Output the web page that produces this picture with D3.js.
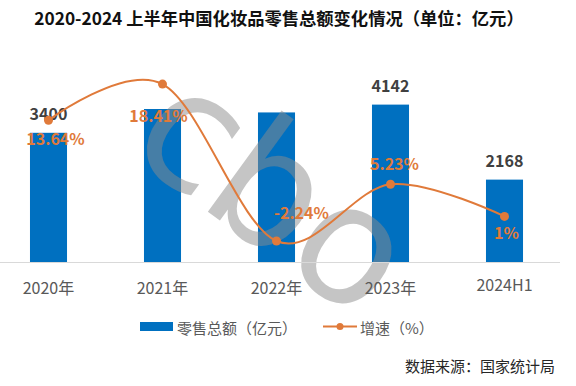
<!DOCTYPE html>
<html>
<head>
<meta charset="utf-8">
<script src="https://cdn.jsdelivr.net/npm/d3@7"></script>
<style>
  html, body { margin: 0; padding: 0; background: #fff; }
  svg { display: block; font-family: "Noto Sans CJK SC", "Noto Sans", sans-serif; }
</style>
</head>
<body>
<svg id="chart" width="576" height="386"></svg>
<script>
// ---- data ----
const categories = ["2020年", "2021年", "2022年", "2023年", "2024H1"];
const salesValues = [3400, 4026, 3936, 4142, 2168];          // 零售总额（亿元）
const salesLabelShown = [true, false, false, true, true];     // labels visible in the picture
const growthValues = [13.64, 18.41, -2.24, 5.23, 1];          // 增速（%）
const growthLabels = ["13.64%", "18.41%", "-2.24%", "5.23%", "1%"];
const seriesNames = ["零售总额（亿元）", "增速（%）"];
const titleText = "2020-2024 上半年中国化妆品零售总额变化情况（单位：亿元）";
const sourceText = "数据来源：国家统计局";

// ---- layout config (not data) ----
const growthLabelDx = [7, -4, 25, 4, 2];
const growthLabelDy = [25, 38, -22, -14, 23];

const BLUE = "#0070C0", ORANGE = "#E07A3A";
const svg = d3.select("#chart");

// title
svg.append("text").attr("x", 279).attr("y", 25).attr("text-anchor", "middle")
  .attr("font-size", 17.3).attr("font-weight", "bold").attr("fill", "#111").text(titleText);

const x = d3.scaleBand().domain(categories).range([-8.5, 561.5])
  .paddingInner(0.675).paddingOuter(0.3375);
const y = d3.scaleLinear().domain([0, 5000]).range([262, 72]);
const y2 = d3.scaleLinear().domain([-5, 20]).range([262, 72]);

// bars
svg.append("g").selectAll("rect").data(salesValues).join("rect")
  .attr("x", (d, i) => x(categories[i]))
  .attr("y", d => y(d))
  .attr("width", x.bandwidth())
  .attr("height", d => y(0) - y(d))
  .attr("fill", BLUE);

// watermark (drawn over the bars, semi-transparent)
const wm = svg.append("g").attr("transform", "translate(275,190) rotate(36)");
wm.append("text").attr("text-anchor", "middle").attr("dominant-baseline", "central")
  .attr("font-family", "DejaVu Sans").attr("font-size", 165)
  .attr("letter-spacing", -2)
  .attr("fill", "#8c8c8c").attr("fill-opacity", 0.5).text("cbo");

// x axis
const xAxis = svg.append("g").attr("transform", `translate(0,${y(0)})`)
  .call(d3.axisBottom(x).tickSize(0).tickPadding(20.5));
xAxis.select(".domain").remove();
svg.append("line").attr("x1", 0).attr("x2", 560).attr("y1", y(0) + 0.5).attr("y2", y(0) + 0.5)
  .attr("stroke", "#d9d9d9").attr("stroke-width", 1);
xAxis.selectAll("text").attr("font-size", 16).attr("fill", "#595959")
  .attr("font-family", "Noto Sans CJK SC")
  .attr("dy", d => /年/.test(d) ? "0.71em" : "0.5em");

// bar labels
svg.append("g").selectAll("text").data(salesValues).join("text")
  .filter((d, i) => salesLabelShown[i])
  .attr("x", (d) => x(categories[salesValues.indexOf(d)]) + x.bandwidth() / 2)
  .attr("y", d => y(d) - 13)
  .attr("text-anchor", "middle").attr("font-size", 16).attr("font-weight", "bold")
  .attr("fill", "#404040").text(d => d);

// growth line
const cx = i => x(categories[i]) + x.bandwidth() / 2;
const line = d3.line().x((d, i) => cx(i)).y(d => y2(d)).curve(d3.curveCardinal.tension(0));
svg.append("path").datum(growthValues).attr("d", line)
  .attr("fill", "none").attr("stroke", ORANGE).attr("stroke-width", 2);
svg.append("g").selectAll("circle").data(growthValues).join("circle")
  .attr("cx", (d, i) => cx(i)).attr("cy", d => y2(d)).attr("r", 4.5).attr("fill", ORANGE);
svg.append("g").selectAll("text").data(growthValues).join("text")
  .attr("x", (d, i) => cx(i) + growthLabelDx[i])
  .attr("y", (d, i) => y2(d) + growthLabelDy[i])
  .attr("text-anchor", "middle").attr("font-size", 16).attr("font-weight", "bold")
  .attr("fill", ORANGE).text((d, i) => growthLabels[i]);

// legend
const lg = svg.append("g");
lg.append("rect").attr("x", 140).attr("y", 322).attr("width", 33).attr("height", 9).attr("fill", BLUE);
lg.append("text").attr("x", 177).attr("y", 327).attr("dominant-baseline", "central")
  .attr("font-size", 15).attr("fill", "#595959").text(seriesNames[0]);
lg.append("line").attr("x1", 323).attr("x2", 357).attr("y1", 326.5).attr("y2", 326.5)
  .attr("stroke", ORANGE).attr("stroke-width", 2);
lg.append("circle").attr("cx", 340).attr("cy", 326.5).attr("r", 3.5).attr("fill", ORANGE);
lg.append("text").attr("x", 360).attr("y", 327).attr("dominant-baseline", "central")
  .attr("font-size", 15).attr("fill", "#595959").text(seriesNames[1]);

// source
svg.append("text").attr("x", 555).attr("y", 372).attr("text-anchor", "end")
  .attr("font-size", 15).attr("fill", "#262626").text(sourceText);
</script>
</body>
</html>
